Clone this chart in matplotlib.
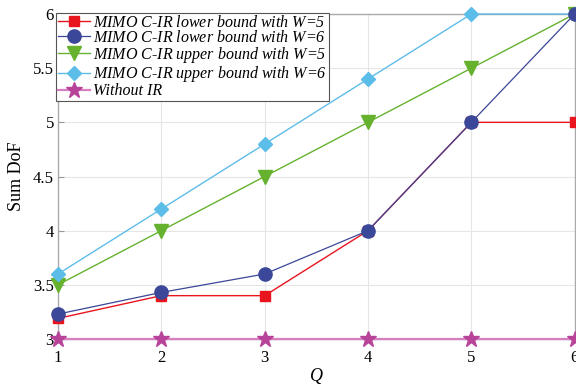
import matplotlib
matplotlib.use("Agg")
import matplotlib.pyplot as plt

# Data
q = [1, 2, 3, 4, 5, 6]
lower_w5 = [3.19, 3.4, 3.4, 4.0, 5.0, 5.0]
lower_w6 = [3.23, 3.43, 3.6, 4.0, 5.0, 6.0]
upper_w5 = [3.5, 4.0, 4.5, 5.0, 5.5, 6.0]
upper_w6 = [3.6, 4.2, 4.8, 5.4, 6.0, 6.0]
without_ir = [3, 3, 3, 3, 3, 3]

labels = [
    "MIMO C-IR lower bound with $W$=5",
    "MIMO C-IR lower bound with $W$=6",
    "MIMO C-IR upper bound with $W$=5",
    "MIMO C-IR upper bound with $W$=6",
    "Without IR",
]

plt.rcParams["font.family"] = ["Liberation Serif", "DejaVu Serif"]
plt.rcParams["mathtext.fontset"] = "custom"
plt.rcParams["mathtext.it"] = "Liberation Serif:italic"
plt.rcParams["mathtext.rm"] = "Liberation Serif"

fig = plt.figure(figsize=(5.76, 3.85), dpi=100)
ax = fig.add_axes([0.1007, 0.1195, 0.897, 0.8441])

# Draw order: baseline first, then bounds
ax.plot(q, without_ir, color="#d77fc0", marker="*", markersize=12, markerfacecolor="#b8449a",
        markeredgecolor="#b8449a", linewidth=1.6, label=labels[4], zorder=3, clip_on=False)
ax.plot(q, lower_w5, color="#e8141e", marker="s", markersize=7.5, linewidth=1.0, label=labels[0],
        zorder=4, clip_on=False)
ax.plot(q, lower_w6, color="#3b4798", marker="o", markersize=9.5, linewidth=0.9, label=labels[1],
        zorder=5, clip_on=False)
ax.plot(q, upper_w5, color="#66b22f", marker="v", markersize=10, linewidth=1.0, label=labels[2],
        zorder=4, clip_on=False)
ax.plot(q, upper_w6, color="#5dbde9", marker="D", markersize=7.5, linewidth=1.0, label=labels[3],
        zorder=4, clip_on=False)

ax.set_xlim(1, 6)
ax.set_ylim(3, 6)
ax.set_xticks(q)
ax.set_yticks([3, 3.5, 4, 4.5, 5, 5.5, 6])
ax.set_yticklabels(["3", "3.5", "4", "4.5", "5", "5.5", "6"])
ax.tick_params(labelsize=12, direction="in", length=4, color="#999999", pad=3)
ax.tick_params(axis="x", pad=8)
ax.grid(True, color="#e6e6e6", linewidth=0.8)
ax.set_axisbelow(True)
for s in ax.spines.values():
    s.set_color("#aaaaaa")
    s.set_linewidth(1.0)

ax.set_xlabel("$Q$", fontsize=13, labelpad=0)
ax.set_ylabel("Sum DoF", fontsize=13, labelpad=6)

handles, leg_labels = ax.get_legend_handles_labels()
order = [1, 2, 3, 4, 0]
leg = ax.legend([handles[i] for i in order], [leg_labels[i] for i in order],
                loc="upper left", bbox_to_anchor=(-0.003, 1.003),
                prop={"style": "italic", "size": 11.5, "family": "Liberation Serif"},
                frameon=True, fancybox=False, edgecolor="#555555", framealpha=1,
                borderpad=0.1, labelspacing=-0.05, handlelength=2.0, handletextpad=0.2,
                borderaxespad=0)
leg.get_frame().set_linewidth(0.8)
leg.set_zorder(10)

fig.savefig("out.png", dpi=100)
